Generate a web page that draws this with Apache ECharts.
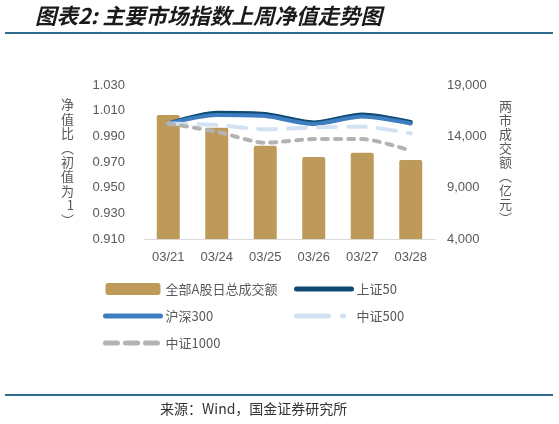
<!DOCTYPE html>
<html><head><meta charset="utf-8">
<script src="https://cdn.jsdelivr.net/npm/echarts@6/dist/echarts.min.js"></script>
<style>html,body{margin:0;padding:0;background:#fff}#c{width:559px;height:424px}</style>
</head><body><div id="c"></div>
<script>
const categories = ['03/21','03/24','03/25','03/26','03/27','03/28'];
const turnover = [16080, 14840, 13090, 11990, 12400, 11700];
const sz50 = [1.000, 1.0084, 1.0074, 1.0008, 1.0070, 1.0012];
const hs300 = [1.000, 1.0066, 1.0058, 0.9996, 1.0054, 1.0000];
const zz500 = [1.000, 0.9988, 0.9955, 0.9970, 0.9975, 0.9923];
const zz1000 = [1.000, 0.9936, 0.9850, 0.9879, 0.9879, 0.9788];
const leftTicks = {min: 0.91, max: 1.03, interval: 0.02};
const rightTicks = {min: 4000, max: 19000, interval: 5000};
const title = '图表2: 主要市场指数上周净值走势图';
const source = '来源：Wind，国金证券研究所';
const leftName = '净值比︵初值为1︶';
const rightName = '两市成交额︵亿元︶';

const chart = echarts.init(document.getElementById('c'), null, {renderer:'canvas'});
const axisFont = {color:'#595959', fontSize:13, fontFamily:'Liberation Sans, Arial, sans-serif'};
const cjk = 'Noto Sans CJK SC, sans-serif';
const legendCommon = {orient:'vertical', top:277, itemWidth:55, itemHeight:12, itemGap:13,
  itemStyle:{opacity:0}, lineStyle:{width:5, cap:'round'},
  textStyle:{color:'#595959', fontSize:13, fontFamily:cjk, lineHeight:14}};
chart.setOption({
  animation:false,
  grid:{left:144, right:124, top:85, bottom:185},
  xAxis:{type:'category', data:categories,
    axisLine:{lineStyle:{color:'#d9d9d9', width:1}},
    axisTick:{inside:true, length:4, lineStyle:{color:'#d9d9d9'}},
    axisLabel:Object.assign({margin:12}, axisFont)},
  yAxis:[
    {type:'value', min:leftTicks.min, max:leftTicks.max, interval:leftTicks.interval,
     splitLine:{show:false}, axisLine:{show:false}, axisTick:{show:false},
     axisLabel:Object.assign({margin:19, formatter:v=>v.toFixed(3)}, axisFont),
     name:leftName.split('').join('\n'), nameLocation:'middle', nameRotate:0, nameGap:70,
     nameTextStyle:{color:'#595959', fontSize:13, lineHeight:14.4, fontFamily:cjk}},
    {type:'value', min:rightTicks.min, max:rightTicks.max, interval:rightTicks.interval,
     splitLine:{show:false}, axisLine:{show:false}, axisTick:{show:false},
     axisLabel:Object.assign({margin:12, formatter:v=>v.toLocaleString('en-US')}, axisFont),
     name:rightName.split('').join('\n'), nameLocation:'middle', nameRotate:0, nameGap:64,
     nameTextStyle:{color:'#595959', fontSize:13, lineHeight:14, fontFamily:cjk}}
  ],
  legend:[
    Object.assign({left:98, data:[
      {name:'全部A股日总成交额', icon:'roundRect', itemStyle:{opacity:1}},
      '沪深300',
      {name:'中证1000', lineStyle:{width:5, cap:'round', type:[12,8]}}]}, legendCommon),
    Object.assign({left:289, data:[
      '上证50',
      {name:'中证500', lineStyle:{width:5, cap:'round', type:[32,14,1,30]}}]}, legendCommon)
  ],
  series:[
    {name:'全部A股日总成交额', type:'bar', yAxisIndex:1, data:turnover, barWidth:23,
     itemStyle:{color:'#BE9A5A', borderRadius:[2,2,0,0]}},
    {name:'上证50', type:'line', data:sz50, symbol:'none', smooth:0.25,
     lineStyle:{color:'#0E4A72', width:4, cap:'round'}, itemStyle:{color:'#0E4A72'}},
    {name:'沪深300', type:'line', data:hs300, symbol:'none', smooth:0.25,
     lineStyle:{color:'#3D7DC0', width:4, cap:'round'}, itemStyle:{color:'#3D7DC0'}},
    {name:'中证500', type:'line', data:zz500, symbol:'none', smooth:0.25,
     lineStyle:{color:'#D3E2F2', width:4, type:[18,12], cap:'round'}, itemStyle:{color:'#D3E2F2'}},
    {name:'中证1000', type:'line', data:zz1000, symbol:'none', smooth:0.25,
     lineStyle:{color:'#B3B3B3', width:4, type:[6,7], cap:'round'}, itemStyle:{color:'#B3B3B3'}}
  ],
  graphic:[
    {type:'text', left:35, top:5, style:{text:title, fill:'#1a1a1a',
      font:'italic bold 21.5px "Noto Sans CJK SC", sans-serif'}},
    {type:'rect', shape:{x:5, y:32, width:548, height:2}, style:{fill:'#2F6A8E'}},
    {type:'rect', shape:{x:5, y:394, width:548, height:2}, style:{fill:'#2F6A8E'}},
    {type:'text', left:160, top:402, style:{text:source, fill:'#333',
      font:'14px "Noto Sans CJK SC", sans-serif'}}
  ]
});
</script></body></html>
